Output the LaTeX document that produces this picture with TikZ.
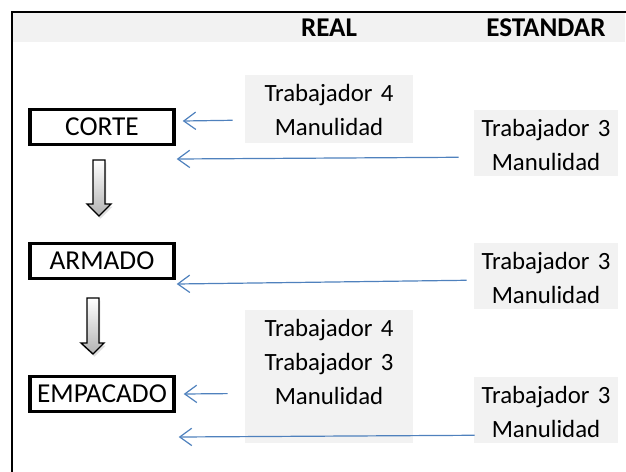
\documentclass[tikz,border=0pt]{standalone}
\usepackage{fontspec}
\setmainfont{Carlito}
\usepackage{xcolor}
\usepackage{tikz}
\usetikzlibrary{arrows.meta,shapes,shadows,calc}
\definecolor{grisfondo}{HTML}{F2F2F2}
\definecolor{azulflecha}{HTML}{4F81BD}
\tikzstyle{proceso}=[rectangle, draw=black, line width=2.6pt,% caja de cada etapa
minimum width=108pt, minimum height=26pt, inner sep=0pt, font=\fontsize{20.5}{25.5}\selectfont]
\tikzstyle{dato}=[rectangle, fill=grisfondo, inner sep=0pt, anchor=north, align=center,% caja gris de recursos
text width=126pt, text height=19.5pt, text depth=31.5pt, font=\fontsize{18.6}{25.5}\selectfont]
\tikzstyle{datoest}=[dato, text width=108pt, text depth=30pt]
\tikzstyle{cabecera}=[font=\fontsize{20.3}{22}\selectfont\bfseries]
\tikzstyle{flecha}=[azulflecha, line width=0.9pt, -{Straight Barb[length=9pt,width=13pt]}]
\tikzstyle{bloque}=[draw=black, line width=1pt, top color=white, bottom color=black!30,
drop shadow={shadow xshift=1pt, shadow yshift=-2pt, opacity=0.25}]

\begin{document}
\begin{tikzpicture}[x=0.75pt, y=-0.75pt]
\useasboundingbox (0,0) rectangle (626,472);
% cabecera
\fill[grisfondo] (13,13) rectangle (625,42);
\draw[line width=1.5pt] (12,472) -- (12,12) -- (626,12);
\node[cabecera] (real) at (329,28) {REAL};
\node[cabecera] (estandar) at (546,28) {ESTANDAR};
% etapas
\node[proceso] (corte) at (102,127) {CORTE};
\node[proceso] (armado) at (102,261) {ARMADO};
\node[proceso] (empacado) at (102,394) {EMPACADO};
% recursos
\node[dato] (real1) at (329,75) {Trabajador 4\\Manulidad};
\node[dato, text depth=80pt] (real2) at (329,310) {Trabajador 4\\Trabajador 3\\Manulidad};
\node[datoest] (est1) at (546,110) {Trabajador 3\\Manulidad};
\node[datoest] (est2) at (546,243) {Trabajador 3\\Manulidad};
\node[datoest] (est3) at (546,377) {Trabajador 3\\Manulidad};
% flechas de bloque
\path[bloque] (93,160) -- (105,160) -- (105,204) -- (111,204) -- (99,216) -- (87,204) -- (93,204) -- cycle;
\path[bloque] (87,298) -- (99,298) -- (99,343) -- (104,343) -- (93,354) -- (81,343) -- (87,343) -- cycle;
% asignaciones
\draw[flecha] ($(real1.west)+(-12,11)$) -- ($(corte.east)+(7,-6)$);
\draw[flecha] ($(est1.west)+(-15,14)$) -- ($(corte.east)+(1,32)$);
\draw[flecha] ($(est2.west)+(-7,4)$) -- ($(armado.east)+(1,23)$);
\draw[flecha] ($(real2.west)+(-17,17)$) -- ($(empacado.east)+(8,0)$);
\draw[flecha] ($(est3.west)+(1,25)$) -- ($(empacado.east)+(3,43)$);
\end{tikzpicture}
\end{document}
